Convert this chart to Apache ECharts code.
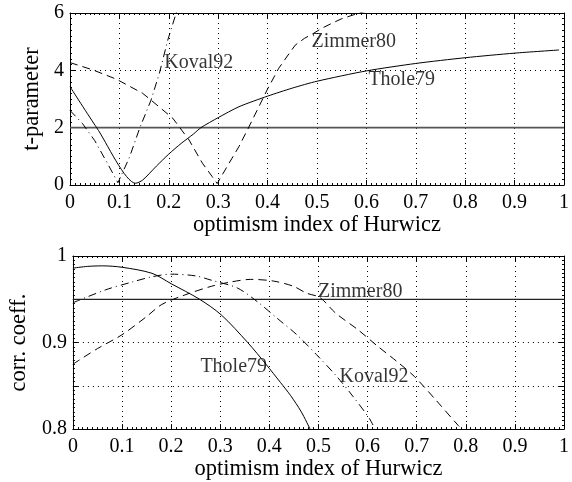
<!DOCTYPE html>
<html>
<head>
<meta charset="utf-8">
<script src="https://cdn.jsdelivr.net/npm/echarts@6/dist/echarts.min.js"></script>
<style>
html,body{margin:0;padding:0;background:#fff;}
#c{width:572px;height:482px;}
</style>
</head>
<body>
<div id="c"></div>
<script>
// ---------- data ----------
var xTicks = [0, 0.1, 0.2, 0.3, 0.4, 0.5, 0.6, 0.7, 0.8, 0.9, 1];
var topYTicks = [0, 2, 4, 6];
var bottomYTicks = [0.8, 0.9, 1];

var xTitle = 'optimism index of Hurwicz';
var topYTitle = 't-parameter';
var bottomYTitle = 'corr. coeff.';

// top panel (t-parameter)
var thole79TopX = [0, 0.054, 0.133, 0.147, 0.175, 0.2, 0.225, 0.25, 0.265, 0.3, 0.342, 0.4, 0.45, 0.5, 0.6, 0.7, 0.8, 0.9, 0.99];
var thole79TopY = [3.43, 2.0, 0.06, 0.17, 0.66, 1.08, 1.45, 1.78, 2.0, 2.35, 2.73, 3.1, 3.38, 3.62, 3.98, 4.24, 4.44, 4.6, 4.71];

var zimmer80TopX = [0, 0.047, 0.094, 0.147, 0.164, 0.208, 0.241, 0.268, 0.288, 0.298, 0.302, 0.322, 0.342, 0.36, 0.38, 0.4, 0.4225, 0.44, 0.456, 0.475, 0.493, 0.51, 0.53, 0.55, 0.573, 0.59, 0.62];
var zimmer80TopY = [4.27, 4.01, 3.69, 3.2, 2.96, 2.33, 1.57, 0.76, 0.29, 0.05, 0.17, 0.76, 1.34, 1.95, 2.65, 3.35, 4.07, 4.5, 4.88, 5.12, 5.29, 5.47, 5.64, 5.8, 5.93, 6.02, 6.15];

var koval92TopX = [0, 0.025, 0.05, 0.075, 0.097, 0.1, 0.12, 0.141, 0.164, 0.181, 0.198, 0.215, 0.22];
var koval92TopY = [2.6, 2.15, 1.55, 0.78, 0.08, 0.1, 0.95, 1.98, 2.96, 3.9, 5.06, 6.0, 6.3];

var refTopX = [0, 1];
var refTopY = [2, 2];

// bottom panel (corr. coeff.)
var thole79BotX = [0, 0.03, 0.06, 0.1, 0.161, 0.2, 0.258, 0.302, 0.356, 0.393, 0.4225, 0.443, 0.465, 0.483];
var thole79BotY = [0.986, 0.988, 0.9886, 0.987, 0.98, 0.968, 0.95, 0.932, 0.9, 0.875, 0.854, 0.839, 0.82, 0.8];

var koval92BotX = [0, 0.067, 0.121, 0.161, 0.2, 0.25, 0.282, 0.335, 0.376, 0.416, 0.456, 0.496, 0.537, 0.57, 0.604, 0.615];
var koval92BotY = [0.946, 0.961, 0.970, 0.976, 0.979, 0.977, 0.972, 0.963, 0.947, 0.928, 0.909, 0.886, 0.861, 0.838, 0.812, 0.8];

var zimmer80BotX = [0, 0.05, 0.1, 0.15, 0.181, 0.228, 0.282, 0.322, 0.362, 0.409, 0.449, 0.476, 0.503, 0.535, 0.58, 0.62, 0.66, 0.695, 0.74, 0.785, 0.793];
var zimmer80BotY = [0.875, 0.893, 0.909, 0.93, 0.944, 0.955, 0.965, 0.970, 0.973, 0.971, 0.965, 0.957, 0.952, 0.934, 0.915, 0.896, 0.878, 0.861, 0.833, 0.804, 0.8];

var refBotX = [0, 1];
var refBotY = [0.95, 0.95];

// curve labels [x, y, text]
var topLabels = [[0.191, 4.28, 'Koval92'], [0.489, 5.0, 'Zimmer80'], [0.604, 3.66, 'Thole79']];
var bottomLabels = [[0.499, 0.9585, 'Zimmer80'], [0.2596, 0.8717, 'Thole79'], [0.543, 0.8603, 'Koval92']];

// ---------- chart ----------
function zip(xs, ys) { return xs.map(function (x, i) { return [x, ys[i]]; }); }
var FONT = 'Liberation Serif';
var BLACK = '#000';

function xAxisCfg(gi, main) {
  var a = {
    gridIndex: gi, type: 'value', min: 0, max: 1, interval: 0.1,
    position: main ? 'bottom' : 'top',
    axisLine: { show: true, onZero: false, lineStyle: { color: BLACK, width: 1 } },
    axisTick: { show: true, inside: true, length: 5, lineStyle: { color: BLACK } },
    minorTick: { show: true, splitNumber: 10, length: 2, lineStyle: { color: BLACK } },
    splitLine: { show: main, lineStyle: { color: BLACK, type: [1, 4], width: 1 } },
    axisLabel: { show: main, color: BLACK, fontFamily: FONT, fontSize: 20, margin: 8 }
  };
  if (main) {
    a.name = xTitle; a.nameLocation = 'middle'; a.nameGap = 28;
    a.nameTextStyle = { color: BLACK, fontFamily: FONT, fontSize: 22.5 };
  }
  return a;
}
function yAxisCfg(gi, main, mn, mx, iv, title, fmt) {
  var a = {
    gridIndex: gi, type: 'value', min: mn, max: mx, interval: iv,
    position: main ? 'left' : 'right',
    axisLine: { show: true, onZero: false, lineStyle: { color: BLACK, width: 1 } },
    axisTick: { show: true, inside: true, length: 5, lineStyle: { color: BLACK } },
    minorTick: { show: true, splitNumber: 10, length: 2, lineStyle: { color: BLACK } },
    splitLine: { show: main, lineStyle: { color: BLACK, type: [1, 4], width: 1 } },
    axisLabel: { show: main, color: BLACK, fontFamily: FONT, fontSize: 20, margin: 6, formatter: fmt }
  };
  if (main) {
    a.name = title; a.nameLocation = 'middle'; a.nameGap = 22; a.nameRotate = 90;
    a.nameTextStyle = { color: BLACK, fontFamily: FONT, fontSize: 22.5 };
  }
  return a;
}
function inList(list) {
  return function (v) {
    for (var i = 0; i < list.length; i++) if (Math.abs(list[i] - v) < 1e-9) return String(list[i]);
    return '';
  };
}
function lineSeries(xi, yi, data, type, color, width, smooth) {
  return {
    type: 'line', xAxisIndex: xi, yAxisIndex: yi, data: data, symbol: 'none',
    smooth: smooth || false, clip: true, silent: true,
    lineStyle: { color: color || BLACK, width: width || 1, type: type }
  };
}
function labelSeries(xi, yi, labels) {
  return {
    type: 'scatter', xAxisIndex: xi, yAxisIndex: yi, symbolSize: 0, silent: true,
    data: labels.map(function (l) { return { value: [l[0], l[1]], name: l[2] }; }),
    label: { show: true, position: 'right', distance: 0, formatter: '{b}',
      color: BLACK, fontFamily: FONT, fontSize: 20 }
  };
}

var DASH = [8, 5];
var DASHDOT = [8, 4, 1, 4];

var option = {
  animation: false,
  backgroundColor: '#fff',
  grid: [
    { left: 70, top: 13, width: 497, height: 172, show: false },
    { left: 70, top: 256, width: 497, height: 175, show: false }
  ],
  xAxis: [xAxisCfg(0, true), xAxisCfg(0, false), xAxisCfg(1, true), xAxisCfg(1, false)],
  yAxis: [
    yAxisCfg(0, true, 0, 6, 2, topYTitle, inList(topYTicks)),
    yAxisCfg(0, false, 0, 6, 2),
    yAxisCfg(1, true, 0.8, 1, 0.05, bottomYTitle, inList(bottomYTicks)),
    yAxisCfg(1, false, 0.8, 1, 0.05)
  ],
  series: [
    lineSeries(0, 0, zip(refTopX, refTopY), 'solid', '#555', 1.6),
    lineSeries(0, 0, zip(thole79TopX, thole79TopY), 'solid', BLACK, 1, 0.25),
    lineSeries(0, 0, zip(zimmer80TopX, zimmer80TopY), DASH, BLACK, 1),
    lineSeries(0, 0, zip(koval92TopX, koval92TopY), DASHDOT, BLACK, 1),
    labelSeries(0, 0, topLabels),
    lineSeries(2, 2, zip(refBotX, refBotY), 'solid', '#222', 1.2),
    lineSeries(2, 2, zip(thole79BotX, thole79BotY), 'solid', BLACK, 1, 0.3),
    lineSeries(2, 2, zip(koval92BotX, koval92BotY), DASHDOT, BLACK, 1, 0.3),
    lineSeries(2, 2, zip(zimmer80BotX, zimmer80BotY), DASH, BLACK, 1, 0.3),
    labelSeries(2, 2, bottomLabels)
  ]
};
var chart = echarts.init(document.getElementById('c'), null, { renderer: 'canvas' });
chart.setOption(option);
</script>
</body>
</html>
